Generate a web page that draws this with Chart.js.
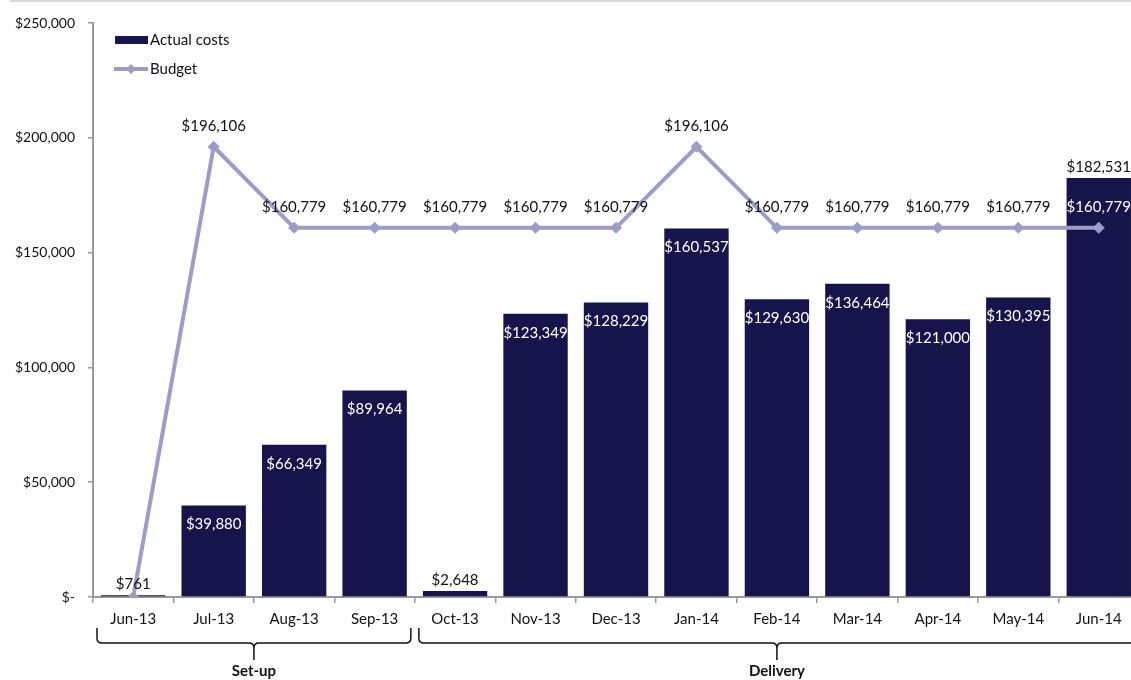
<!DOCTYPE html>
<html>
<head>
<meta charset="utf-8">
<script src="https://cdn.jsdelivr.net/npm/chart.js@4"></script>
<style>
  html, body { margin: 0; padding: 0; background: #fff; }
  #wrap { position: relative; width: 1131px; height: 680px; overflow: hidden; }
</style>
</head>
<body>
<div id="wrap"><canvas id="grafica" width="1145" height="680"></canvas></div>
<script>
// datos
const months = ['Jun-13', 'Jul-13', 'Aug-13', 'Sep-13', 'Oct-13', 'Nov-13', 'Dec-13',
                'Jan-14', 'Feb-14', 'Mar-14', 'Apr-14', 'May-14', 'Jun-14']
const actualCosts = [761, 39880, 66349, 89964, 2648, 123349, 128229, 160537, 129630, 136464, 121000, 130395, 182531]
const budget = [0, 196106, 160779, 160779, 160779, 160779, 160779, 196106, 160779, 160779, 160779, 160779, 160779]
const yTicks = [0, 50000, 100000, 150000, 200000, 250000]
const phases = [
  { label: 'Set-up', from: 0, to: 3 },
  { label: 'Delivery', from: 4, to: 12 }
]

const NAVY = '#16144a'
const LAVENDER = '#9b9dc8'
const FONT = 'Lato, "Open Sans", sans-serif'

const money = v => v === 0 ? '$-' : '$' + v.toLocaleString('en-US')

// etiquetas de valores
const valueLabels = {
  id: 'valueLabels',
  afterDatasetsDraw(chart) {
    const ctx = chart.ctx
    ctx.save()
    ctx.font = '15px ' + FONT
    ctx.textAlign = 'center'
    ctx.textBaseline = 'middle'
    const bars = chart.getDatasetMeta(0).data
    bars.forEach((bar, i) => {
      const v = actualCosts[i]
      const inside = v > 10000 && v < 170000
      ctx.fillStyle = inside ? '#fff' : '#111'
      ctx.fillText(money(v), bar.x, inside ? bar.y + 19 : bar.y - 11)
    })
    const pts = chart.getDatasetMeta(1).data
    pts.forEach((p, i) => {
      const v = budget[i]
      if (!v) return
      const y = p.y - 21
      ctx.fillStyle = y > bars[i].y ? '#fff' : '#111'
      ctx.fillText(money(v), p.x, y)
    })
    ctx.restore()
  }
}

// leyenda, llaves y linea superior
const extras = {
  id: 'extras',
  afterDraw(chart) {
    const ctx = chart.ctx
    const x = chart.scales.x
    ctx.save()
    // linea gris arriba
    ctx.fillStyle = '#d9d9d9'
    ctx.fillRect(10, 0, chart.width - 10, 2)

    // leyenda
    ctx.font = '15px ' + FONT
    ctx.textBaseline = 'middle'
    ctx.fillStyle = NAVY
    ctx.fillRect(115, 36, 33, 8)
    ctx.fillStyle = '#111'
    ctx.fillText('Actual costs', 150, 40)
    ctx.strokeStyle = LAVENDER
    ctx.lineWidth = 4
    ctx.beginPath(); ctx.moveTo(114, 69); ctx.lineTo(148, 69); ctx.stroke()
    ctx.fillStyle = LAVENDER
    ctx.beginPath()
    ctx.moveTo(131, 64); ctx.lineTo(136, 69); ctx.lineTo(131, 74); ctx.lineTo(126, 69)
    ctx.closePath(); ctx.fill()
    ctx.fillStyle = '#111'
    ctx.fillText('Budget', 150, 69)

    // llaves
    const half = (x.getPixelForValue(1) - x.getPixelForValue(0)) / 2
    const top = 628, mid = 643, tip = 660, r = 5
    ctx.strokeStyle = '#111'
    ctx.lineWidth = 1.5
    phases.forEach(ph => {
      const x0 = x.getPixelForValue(ph.from) - half + 4
      const x1 = x.getPixelForValue(ph.to) + half - 4
      const xm = (x0 + x1) / 2
      ctx.beginPath()
      ctx.moveTo(x0, top)
      ctx.lineTo(x0, mid - r)
      ctx.quadraticCurveTo(x0, mid, x0 + r, mid)
      ctx.lineTo(xm - r, mid)
      ctx.quadraticCurveTo(xm, mid, xm, mid + r)
      ctx.lineTo(xm, tip)
      ctx.moveTo(xm, mid + r)
      ctx.quadraticCurveTo(xm, mid, xm + r, mid)
      ctx.lineTo(x1 - r, mid)
      ctx.quadraticCurveTo(x1, mid, x1, mid - r)
      ctx.lineTo(x1, top)
      ctx.stroke()
      ctx.font = 'bold 15px ' + FONT
      ctx.textAlign = 'center'
      ctx.fillStyle = '#111'
      ctx.fillText(ph.label, xm, 671)
    })
    ctx.restore()
  }
}

const graph = document.querySelector('#grafica')

new Chart(graph, {
  data: {
    labels: months,
    datasets: [
      {
        type: 'bar',
        label: 'Actual costs',
        data: actualCosts,
        backgroundColor: NAVY,
        barPercentage: 0.8,
        categoryPercentage: 1,
        order: 2
      },
      {
        type: 'line',
        label: 'Budget',
        data: budget,
        borderColor: LAVENDER,
        backgroundColor: LAVENDER,
        borderWidth: 4,
        pointStyle: 'rectRot',
        pointRadius: 6,
        pointBorderWidth: 0,
        fill: false,
        tension: 0,
        order: 1
      }
    ]
  },
  options: {
    responsive: false,
    animation: false,
    layout: { padding: { top: 23, right: 0, left: 0, bottom: 0 } },
    plugins: { legend: { display: false }, tooltip: { enabled: false } },
    scales: {
      x: {
        offset: true,
        grid: { offset: true, drawOnChartArea: false, drawTicks: true, tickLength: 6, color: '#999', lineWidth: 1.5 },
        border: { color: '#999', width: 2 },
        ticks: { color: '#111', font: { family: FONT, size: 15 }, padding: 7, maxRotation: 0, autoSkip: false },
        afterFit(s) { s.height = 83 }
      },
      y: {
        min: 0,
        max: 250000,
        afterBuildTicks(s) { s.ticks = yTicks.map(v => ({ value: v })) },
        grid: { drawOnChartArea: false, drawTicks: true, tickLength: 5, color: '#999', lineWidth: 1.5 },
        border: { color: '#999', width: 2 },
        ticks: { color: '#111', font: { family: FONT, size: 14 }, padding: 13, callback: v => money(v) },
        afterFit(s) { s.width = 93 }
      }
    }
  },
  plugins: [valueLabels, extras]
})
</script>
</body>
</html>
